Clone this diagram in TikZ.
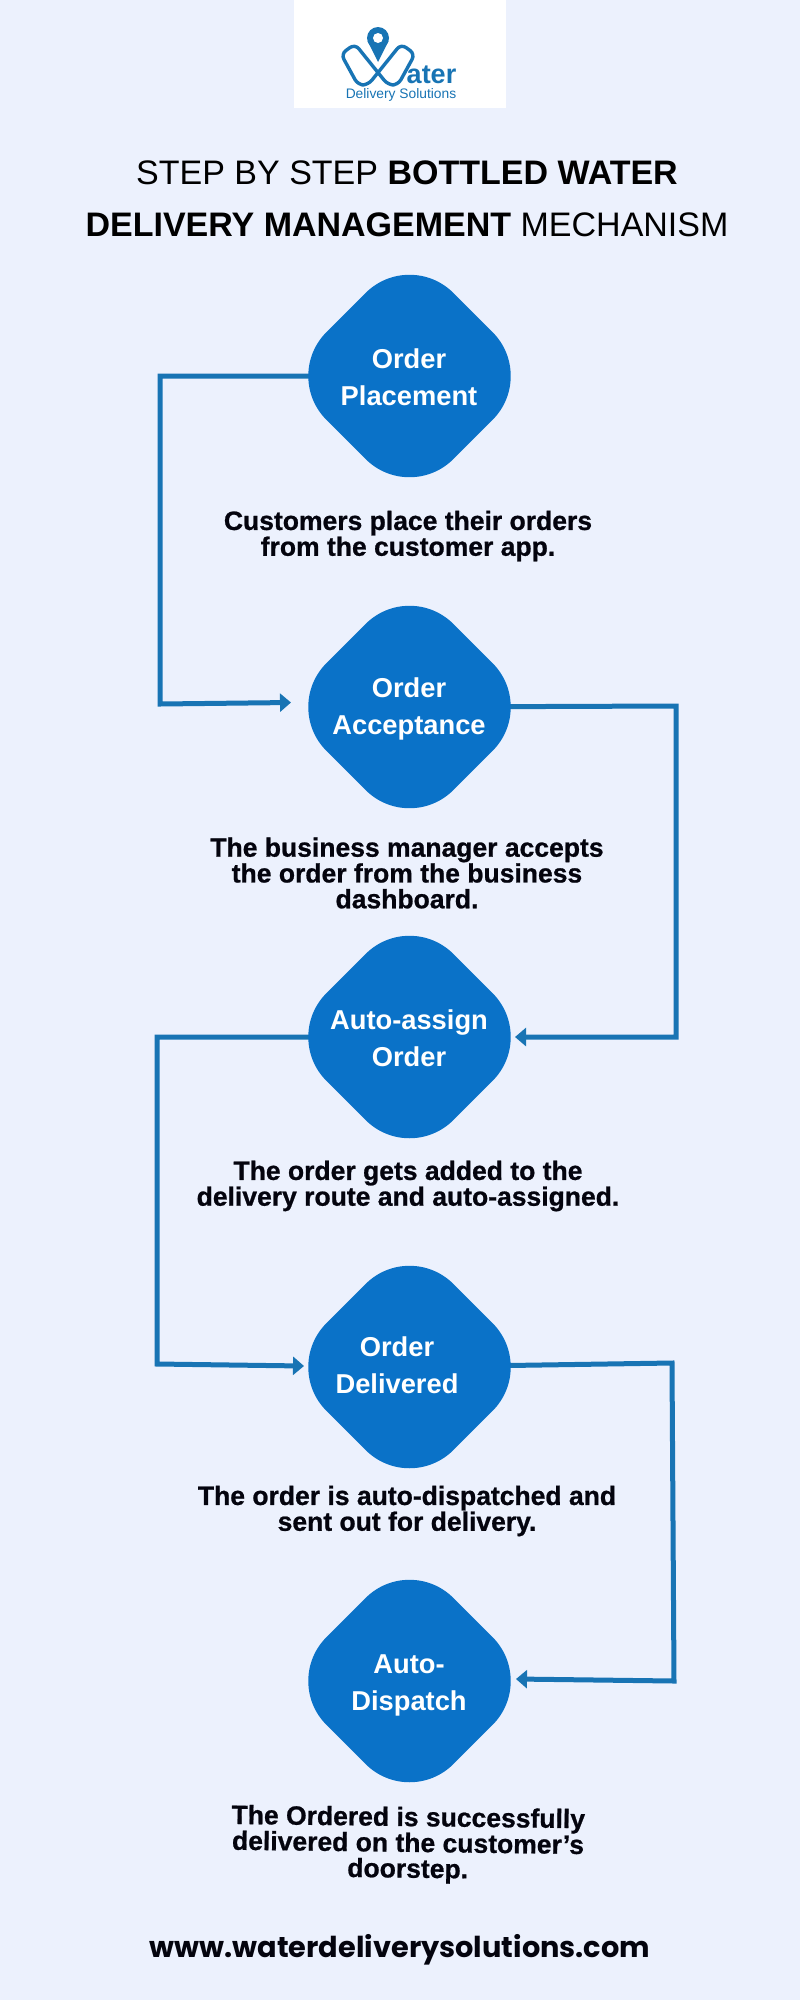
\documentclass[tikz,border=0pt]{standalone}
\usepackage{fontspec}
\setmainfont{Liberation Sans}
\newfontfamily\bodyfont[BoldFeatures={FakeBold=0.8}]{Liberation Sans}
\newfontfamily\webfont{Poppins}
\usepackage{tikz}
\usetikzlibrary{arrows.meta,backgrounds,calc,shapes.geometric}
\definecolor{pagebg}{HTML}{ECF1FD}
\definecolor{stepblue}{HTML}{0A72C8}
\definecolor{flowblue}{HTML}{1874B4}
\definecolor{inktext}{HTML}{04040E}
\tikzset{
  stepbox/.style={shape=diamond,fill=stepblue,minimum width=254pt,minimum height=254pt,inner sep=0pt,rounded corners=62pt},
  steptext/.style={text=white,align=center,font={\bfseries\fontsize{27.3}{37}\selectfont}},
  desctext/.style={text=inktext,align=center,font={\bodyfont\bfseries\fontsize{26.5}{25.8}\selectfont}},
  flow/.style={draw=flowblue,line width=5pt,line join=miter},
  flowtip/.style={flow,-{Triangle[length=11pt,width=18pt]}}
}
\begin{document}
\begin{tikzpicture}[x=1pt,y=-1pt]
\useasboundingbox (0,0) rectangle (800,2000);
% logo box
\node[fill=white,minimum width=212pt,minimum height=108pt,inner sep=0pt] (logobox) at (400,54) {};
\draw[flowblue,line width=3.4pt,rounded corners=6pt] (341,54) -- (355,44) -- (388,85) -- (398,85) -- (415,54) -- (401,44) -- (368,85) -- (358,85) -- cycle;
\fill[flowblue] (378,62) -- (367.5,41) -- (388.5,41) -- cycle;
\fill[flowblue] (378,38) circle[radius=11pt];
\fill[white] (378,38) circle[radius=5pt];
\node[text=flowblue,inner sep=0pt,font={\bfseries\fontsize{27}{27}\selectfont}] (logoname) at (431.5,75) {ater};
\node[text=flowblue,inner sep=0pt,font={\fontsize{13.8}{14}\selectfont}] (logosub) at (401,94.5) {Delivery Solutions};
% heading
\node[inner sep=0pt,font={\fontsize{34}{34}\selectfont}] (headone) at (407,173) {STEP BY STEP \textbf{BOTTLED WATER}};
\node[inner sep=0pt,font={\fontsize{34}{34}\selectfont}] (headtwo) at (407,225) {\textbf{DELIVERY MANAGEMENT} MECHANISM};
% steps
\node[stepbox] (place) at (409.5,376) {};
\node[stepbox] (accept) at (409.5,707) {};
\node[stepbox] (assign) at (409.5,1037) {};
\node[stepbox] (deliver) at (409.5,1367) {};
\node[stepbox] (dispatch) at (409.5,1681) {};
\node[steptext] (placetext) at (409,377) {Order\\Placement};
\node[steptext] (accepttext) at (409,709) {Order\\Acceptance};
\node[steptext] (assigntext) at (409,1038) {Auto-assign\\Order};
\node[steptext] (delivertext) at (397,1365) {Order\\Delivered};
\node[steptext] (dispatchtext) at (409,1685) {Auto-\\Dispatch};
% descriptions
\node[desctext] (placedesc) at (408,536) {Customers place their orders\\from the customer app.};
\node[desctext] (acceptdesc) at (407,873) {The business manager accepts\\the order from the business\\dashboard.};
\node[desctext] (assigndesc) at (408,1186) {The order gets added to the\\delivery route and auto-assigned.};
\node[desctext] (deliverdesc) at (407,1511) {The order is auto-dispatched and\\sent out for delivery.};
\node[desctext,rotate=-0.7] (dispatchdesc) at (408,1845) {The Ordered is successfully\\delivered on the customer’s\\doorstep.};
\node[inner sep=0pt,text=inktext,font={\webfont\bfseries\fontsize{28.8}{29}\selectfont}] (website) at (400,1950) {www.waterdeliverysolutions.com};
% corners and tips of the connectors
\coordinate (cornera) at (160,376);
\coordinate (cornerb) at (160,704);
\coordinate (placein) at (291,702.5);
\coordinate (cornerc) at (676,706);
\coordinate (cornerd) at (676,1037);
\coordinate (assignin) at (515,1037);
\coordinate (cornere) at (157,1037);
\coordinate (cornerf) at (157,1364);
\coordinate (deliverin) at (304,1366);
\coordinate (cornerg) at (672,1363);
\coordinate (cornerh) at (674,1681);
\coordinate (dispatchin) at (516,1679);
\begin{scope}[on background layer]
\fill[pagebg] (0,0) rectangle (800,2000);
\draw[flowtip] (place.center) -- (cornera) -- (cornerb) -- (placein);
\draw[flowtip] (accept.center) -- (cornerc) -- (cornerd) -- (assignin);
\draw[flowtip] (assign.center) -- (cornere) -- (cornerf) -- (deliverin);
\draw[flowtip] (deliver.center) -- (cornerg) -- (cornerh) -- (dispatchin);
\end{scope}
\end{tikzpicture}
\end{document}
